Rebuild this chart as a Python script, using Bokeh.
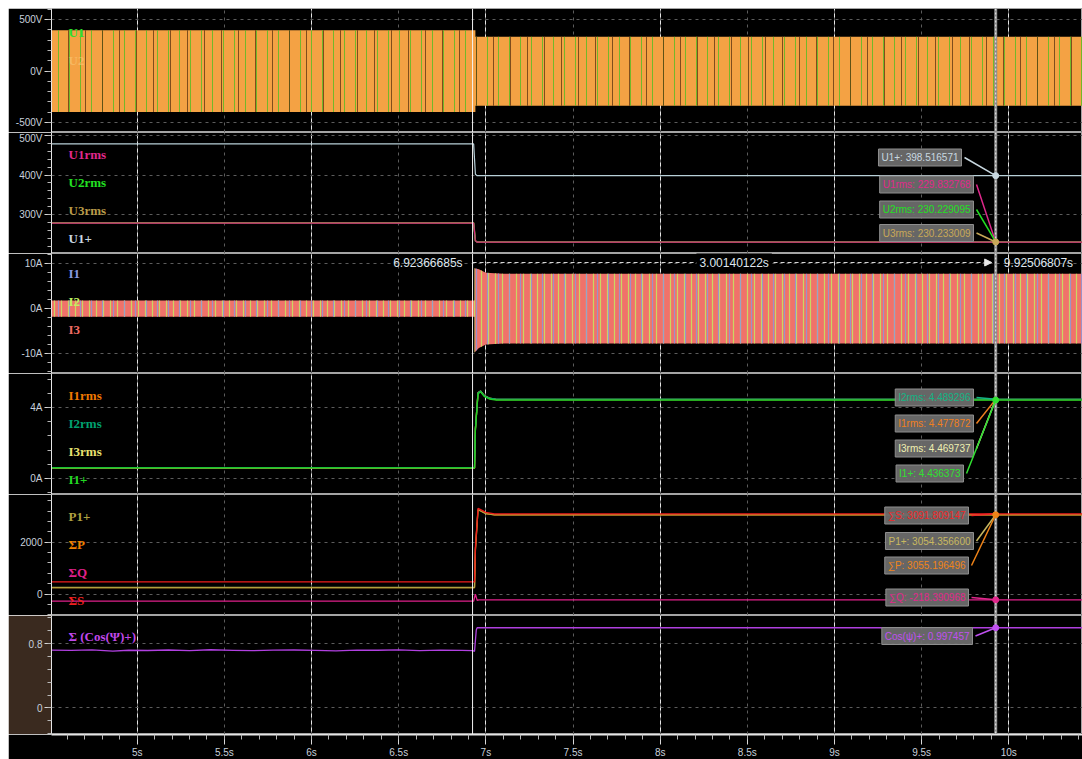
import numpy as np
from bokeh.plotting import figure
from bokeh.layouts import column
from bokeh.models import Range1d, FixedTicker, Grid, Span, Label, Arrow, NormalHead
from bokeh.embed import file_html
from bokeh.resources import INLINE

# ======================= DATA =======================
X_START, X_END = 4.508, 10.423
T_CURSOR1 = 6.92366685
T_CURSOR2 = 9.92506807
CURSOR1_TEXT = "6.92366685s"
CURSOR2_TEXT = "9.92506807s"
DELTA_TEXT = "3.00140122s"

X_TICKS = [5.0, 5.5, 6.0, 6.5, 7.0, 7.5, 8.0, 8.5, 9.0, 9.5, 10.0]
X_TICK_LABELS = ["5s", "5.5s", "6s", "6.5s", "7s", "7.5s", "8s", "8.5s", "9s", "9.5s", "10s"]

# panel 1 : phase voltages (envelope of the dense 50 Hz traces)
U_WAVE_T = [4.45, 6.94, 6.94, 10.45]
U_WAVE_HI = [395, 395, 333, 333]
U_WAVE_LO = [-398, -398, -337, -337]
P1_RANGE = (-597, 607)
P1_TICKS = [-500, 0, 500]
P1_LABELS = ["-500V", "0V", "500V"]
P1_NAMES = ["U1", "U2"]

# panel 2 : rms voltages
URMS_T = [4.45, 6.93, 6.94, 6.95, 10.45]
U1PLUS_V = [479, 479, 402, 398.5, 398.5]
U1RMS_V = [278.0, 278.0, 233, 229.8, 229.8]
U2RMS_V = [278.4, 278.4, 233, 230.2, 230.2]
U3RMS_V = [278.8, 278.8, 233, 230.2, 230.2]
P2_RANGE = (201, 508)
P2_TICKS = [300, 400, 500]
P2_LABELS = ["300V", "400V", "500V"]
P2_NAMES = ["U1rms", "U2rms", "U3rms", "U1+"]

# panel 3 : phase currents (envelope)
I_WAVE_T = [4.45, 6.935, 6.935, 6.96, 7.0, 7.1, 10.45]
I_WAVE_HI = [1.8, 1.8, 9.0, 8.8, 8.0, 7.8, 7.8]
I_WAVE_LO = [-1.8, -1.8, -9.8, -8.8, -8.0, -7.8, -7.8]
P3_RANGE = (-14.5, 12.3)
P3_TICKS = [-10, 0, 10]
P3_LABELS = ["-10A", "0A", "10A"]
P3_NAMES = ["I1", "I2", "I3"]

# panel 4 : rms currents
IRMS_T = [4.45, 6.935, 6.94, 6.955, 6.97, 6.99, 7.02, 7.06, 10.45]
I1RMS_V = [0.58, 0.58, 2.8, 4.85, 4.95, 4.70, 4.55, 4.48, 4.478]
I2RMS_V = [0.60, 0.60, 2.8, 4.85, 4.95, 4.70, 4.55, 4.49, 4.489]
I3RMS_V = [0.57, 0.57, 2.8, 4.85, 4.95, 4.70, 4.55, 4.47, 4.470]
I1PLUS_V = [0.58, 0.58, 2.7, 4.80, 4.90, 4.65, 4.50, 4.44, 4.436]
P4_RANGE = (-0.93, 5.95)
P4_TICKS = [0, 4]
P4_LABELS = ["0A", "4A"]
P4_NAMES = ["I1rms", "I2rms", "I3rms", "I1+"]

# panel 5 : powers
PWR_T = [4.45, 6.935, 6.94, 6.955, 6.97, 7.0, 7.05, 10.45]
SUM_S_V = [477, 477, 1800, 3300, 3250, 3150, 3092, 3092]
P1PLUS_V = [258, 258, 1700, 3250, 3200, 3100, 3054, 3054]
SUM_P_V = [256, 256, 1700, 3250, 3200, 3100, 3055, 3055]
Q_T = [4.45, 6.93, 6.94, 6.95, 6.96, 10.45]
SUM_Q_V = [-269, -269, 0, -240, -218, -218]
P5_RANGE = (-820, 3835)
P5_TICKS = [0, 2000]
P5_LABELS = ["0", "2000"]
P5_NAMES = ["P1+", "ΣP", "ΣQ", "ΣS"]

# panel 6 : power factor
COS_T = [4.45, 4.62, 4.74, 4.86, 4.95, 5.06, 5.18, 5.30, 5.42, 5.55, 5.66, 5.78, 5.90,
         6.02, 6.14, 6.26, 6.38, 6.50, 6.62, 6.74, 6.86, 6.925, 6.935, 6.945, 6.95, 10.45]
COS_V = [0.720, 0.716, 0.722, 0.707, 0.718, 0.715, 0.721, 0.713, 0.724, 0.717, 0.712, 0.719, 0.721,
         0.716, 0.710, 0.720, 0.718, 0.722, 0.714, 0.719, 0.716, 0.712, 0.705, 0.970, 0.9975, 0.9975]
P6_RANGE = (-0.33, 1.15)
P6_TICKS = [0, 0.8]
P6_LABELS = ["0", "0.8"]
P6_NAMES = ["Σ (Cos(Ψ)+)"]

# cursor read-outs
ANN_U_TEXT = ["U1+: 398.516571", "U1rms: 229.832768", "U2rms: 230.229095", "U3rms: 230.233009"]
ANN_U_VAL = [398.516571, 229.832768, 230.229095, 230.233009]
ANN_I_TEXT = ["I2rms: 4.489296", "I1rms: 4.477872", "I3rms: 4.469737", "I1+: 4.436373"]
ANN_I_VAL = [4.489296, 4.477872, 4.469737, 4.436373]
ANN_P_TEXT = ["∑S: 3091.809147", "P1+: 3054.356600", "∑P: 3055.196496", "∑Q: -218.390968"]
ANN_P_VAL = [3091.809147, 3054.356600, 3055.196496, -218.390968]
ANN_C_TEXT = ["Cos(ψ)+: 0.997457"]
ANN_C_VAL = [0.997457]

# ======================= STYLE / LAYOUT =======================
FIG_W = 1074
LEFT = 43
FRAME_W = FIG_W - LEFT
FRAME_H = [124, 121, 120, 121, 121, 119]
AXIS_FIG_H = 25
FONT = "Liberation Sans"
LFONT = "Liberation Serif"
GRID_C = "#5c5c5c"
AXIS_TXT = "#c8d0dc"
BOX_FILL = "#6c6c6c"
BOX_LINE = "#8e8e8e"

SPP = (X_END - X_START) / FRAME_W


def xval(px):
    return X_START + (px - 51) * SPP


def yval(rng, h, off):
    return rng[1] - off * (rng[1] - rng[0]) / h


def minor(lo, hi, step):
    return [round(float(v), 6) for v in np.arange(lo, hi + step / 2, step)]


x_range = Range1d(X_START, X_END)


def style_axis(ax):
    ax.axis_line_color = "#e6e6e6"
    ax.major_tick_line_color = "#d8d8d8"
    ax.minor_tick_line_color = "#b8b8b8"
    ax.major_tick_in = 0
    ax.minor_tick_in = 0
    ax.major_tick_out = 7
    ax.minor_tick_out = 4
    ax.major_label_text_color = AXIS_TXT
    ax.major_label_text_font = FONT
    ax.major_label_text_font_size = "10px"
    ax.major_label_standoff = 2


def make_panel(idx, yr, ticks, labels, minor_ticks, border="black"):
    p = figure(width=FIG_W, height=FRAME_H[idx],
               x_range=x_range, y_range=Range1d(*yr), x_axis_location=None,
               output_backend="svg", toolbar_location=None, tools="",
               background_fill_color="black", border_fill_color=border,
               outline_line_color="#a4a4a4", outline_line_width=1,
               min_border=0, min_border_left=LEFT)
    ax = p.yaxis[0]
    ax.ticker = FixedTicker(ticks=ticks, minor_ticks=minor_ticks)
    ax.major_label_overrides = dict(zip(ticks, labels))
    style_axis(ax)
    g = p.ygrid[0]
    g.grid_line_color = GRID_C
    g.grid_line_dash = "3 4"
    p.add_layout(Grid(dimension=0, ticker=FixedTicker(ticks=X_TICKS),
                      grid_line_color=GRID_C, grid_line_dash="3 4"))
    # cursors
    p.add_layout(Span(location=T_CURSOR1, dimension="height", line_color="#f2f2f2", line_width=1))
    p.add_layout(Span(location=T_CURSOR2, dimension="height", line_color="#8a8a8a", line_width=3))
    p.add_layout(Span(location=T_CURSOR2, dimension="height", line_color="#eeeeee",
                      line_width=1, line_dash="2 2"))
    return p


def add_names(p, idx, rng, names, colors, first_off=21.5, alphas=None):
    for i, (n, c) in enumerate(zip(names, colors)):
        p.add_layout(Label(x=xval(68), y=yval(rng, FRAME_H[idx], first_off + 28 * i), text=n,
                           text_color=c, text_font=LFONT, text_font_style="bold",
                           text_font_size="13px", text_baseline="middle",
                           text_alpha=1 if alphas is None else alphas[i]))


def add_readouts(p, idx, rng, texts, vals, colors, offs, rights, point_colors):
    for t, v, c, off, r in zip(texts, vals, colors, offs, rights):
        yb = yval(rng, FRAME_H[idx], off)
        xr = xval(r)
        p.segment(x0=[xr], y0=[yb], x1=[T_CURSOR2], y1=[v], line_color=c, line_width=1.5,
                  level="overlay")
        p.add_layout(Label(x=xval(r - 3), y=yb, text=t, text_color=c, text_font=FONT,
                           text_font_size="10px", text_align="right", text_baseline="middle",
                           background_fill_color=BOX_FILL, background_fill_alpha=0.95,
                           border_line_color=BOX_LINE, padding=3))
    for v, pc in zip(vals, point_colors):
        if pc is not None:
            p.scatter(x=[T_CURSOR2], y=[v], size=6, fill_color=pc, line_color=pc, level="overlay")


# ---------- panel 1 ----------
p1 = make_panel(0, P1_RANGE, P1_TICKS, P1_LABELS, minor(-600, 600, 100))
p1.varea(x=U_WAVE_T, y1=U_WAVE_LO, y2=U_WAVE_HI, fill_color="#f4a244",
         hatch_pattern="|", hatch_color="#3cc21e", hatch_scale=11, hatch_weight=1, hatch_alpha=0.7)
p1.varea(x=U_WAVE_T, y1=U_WAVE_LO, y2=U_WAVE_HI, fill_alpha=0,
         hatch_pattern="|", hatch_color="#5a3010", hatch_scale=17, hatch_weight=1, hatch_alpha=0.75)
add_names(p1, 0, P1_RANGE, P1_NAMES, ["#2ee02e", "#f8c878"], first_off=24, alphas=[1, 0.6])

# ---------- panel 2 ----------
p2 = make_panel(1, P2_RANGE, P2_TICKS, P2_LABELS, minor(200, 500, 20))
p2.line(URMS_T, U3RMS_V, line_color="#b09040", line_width=1.5)
p2.line(URMS_T, U2RMS_V, line_color="#20d020", line_width=1.2)
p2.line(URMS_T, U1RMS_V, line_color="#d8207e", line_width=1.2)
p2.line(URMS_T, U1PLUS_V, line_color="#b8d0d8", line_width=1.2)
add_names(p2, 1, P2_RANGE, P2_NAMES, ["#e0288c", "#22e022", "#b89a48", "#c8d8e0"])
add_readouts(p2, 1, P2_RANGE, ANN_U_TEXT, ANN_U_VAL,
             ["#c8d8e0", "#e0288c", "#22e022", "#c8a858"],
             [25, 52, 77, 100.5], [964, 976, 976, 976],
             ["#c8d8e0", None, None, "#c8a858"])

# ---------- panel 3 ----------
p3 = make_panel(2, P3_RANGE, P3_TICKS, P3_LABELS, minor(-14, 12, 2))
p3.varea(x=I_WAVE_T, y1=I_WAVE_LO, y2=I_WAVE_HI, fill_color="#f0726a",
         hatch_pattern="|", hatch_color="#c0f060", hatch_scale=7, hatch_weight=1.2, hatch_alpha=0.8)
p3.varea(x=I_WAVE_T, y1=I_WAVE_LO, y2=I_WAVE_HI, fill_alpha=0,
         hatch_pattern="|", hatch_color="#8898e0", hatch_scale=11, hatch_weight=1.2, hatch_alpha=0.8)
add_names(p3, 2, P3_RANGE, P3_NAMES, ["#8898e0", "#c0f060", "#f06a62"], first_off=20)
ym = yval(P3_RANGE, FRAME_H[2], 9)
p3.add_layout(Arrow(end=NormalHead(size=7, fill_color="#e8e8e8", line_color="#e8e8e8"),
                    x_start=T_CURSOR1, y_start=ym, x_end=T_CURSOR2 - 4 * SPP, y_end=ym,
                    line_color="#d4d4d4", line_width=1, line_dash="4 3"))
p3.add_layout(Label(x=T_CURSOR1 - 10 * SPP, y=ym, text=CURSOR1_TEXT, text_color="#dfe6ee",
                    text_font=FONT, text_font_size="12px", text_align="right", text_baseline="middle"))
p3.add_layout(Label(x=(T_CURSOR1 + T_CURSOR2) / 2, y=ym, text=DELTA_TEXT, text_color="#dfe6ee",
                    text_font=FONT, text_font_size="12px", text_align="center", text_baseline="middle",
                    background_fill_color="black", padding=3))
p3.add_layout(Label(x=T_CURSOR2 + 8 * SPP, y=ym, text=CURSOR2_TEXT, text_color="#dfe6ee",
                    text_font=FONT, text_font_size="12px", text_align="left", text_baseline="middle"))

# ---------- panel 4 ----------
p4 = make_panel(3, P4_RANGE, P4_TICKS, P4_LABELS, minor(-0.8, 5.6, 0.8))
p4.line(IRMS_T, I3RMS_V, line_color="#e0e060", line_width=1.3)
p4.line(IRMS_T, I1RMS_V, line_color="#f07800", line_width=1.3)
p4.line(IRMS_T, I2RMS_V, line_color="#00a070", line_width=1.3)
p4.line(IRMS_T, I1PLUS_V, line_color="#20d020", line_width=1.3)
add_names(p4, 3, P4_RANGE, P4_NAMES, ["#f07800", "#00a070", "#e8e070", "#22d822"], first_off=22)
add_readouts(p4, 3, P4_RANGE, ANN_I_TEXT, ANN_I_VAL,
             ["#14b484", "#f08020", "#f0f0b0", "#30e030"],
             [24, 50, 75, 100], [976, 976, 976, 966],
             [None, None, None, "#30e030"])

# ---------- panel 5 ----------
p5 = make_panel(4, P5_RANGE, P5_TICKS, P5_LABELS, minor(-800, 3600, 400))
p5.line(PWR_T, SUM_P_V, line_color="#f08000", line_width=1.3)
p5.line(PWR_T, P1PLUS_V, line_color="#b0a040", line_width=1.3)
p5.line(Q_T, SUM_Q_V, line_color="#e0208a", line_width=1.3)
p5.line(PWR_T, SUM_S_V, line_color="#f01c1c", line_width=1.3)
add_names(p5, 4, P5_RANGE, P5_NAMES, ["#b0a040", "#f08000", "#e0208a", "#f02020"], first_off=22)
add_readouts(p5, 4, P5_RANGE, ANN_P_TEXT, ANN_P_VAL,
             ["#f02828", "#c8b860", "#f08418", "#e0288c"],
             [21, 46.5, 71, 103], [971, 976, 971, 971],
             [None, None, "#f08418", "#e0288c"])

# ---------- panel 6 ----------
p6 = make_panel(5, P6_RANGE, P6_TICKS, P6_LABELS, minor(-0.32, 1.12, 0.16), border="#3a2a1f")
p6.line(COS_T, COS_V, line_color="#b040e0", line_width=1.3)
add_names(p6, 5, P6_RANGE, P6_NAMES, ["#c048ec"], first_off=21)
add_readouts(p6, 5, P6_RANGE, ANN_C_TEXT, ANN_C_VAL, ["#c050f0"], [20.5], [975], ["#c050f0"])

# ---------- time axis ----------
p7 = figure(width=FIG_W, height=AXIS_FIG_H, x_range=x_range, y_range=Range1d(0, 1),
            output_backend="svg", toolbar_location=None, tools="",
            background_fill_color="black", border_fill_color="black", outline_line_color=None,
            min_border=0, min_border_left=LEFT, y_axis_location=None)
xa = p7.xaxis[0]
xa.ticker = FixedTicker(ticks=X_TICKS, minor_ticks=minor(4.6, 10.4, 0.1))
xa.major_label_overrides = dict(zip(X_TICKS, X_TICK_LABELS))
style_axis(xa)
xa.axis_line_width = 2
xa.major_tick_out = 10
xa.minor_tick_out = 5
xa.major_label_standoff = 2
p7.xgrid[0].visible = False
p7.add_layout(Span(location=T_CURSOR1, dimension="height", line_color="#f2f2f2", line_width=1))

layout = column(p1, p2, p3, p4, p5, p6, p7, spacing=0, margin=(8, 0, 0, 8))
open("out.html", "w").write(file_html(layout, INLINE))
